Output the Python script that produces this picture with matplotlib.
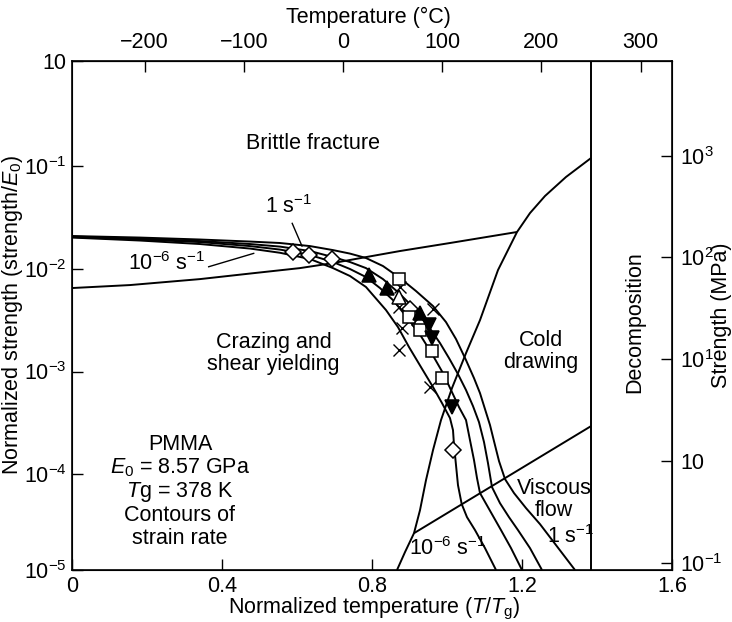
import numpy as np
import matplotlib
matplotlib.use("Agg")
import matplotlib.pyplot as plt
from matplotlib.ticker import FixedLocator, FixedFormatter, NullLocator

plt.rcParams["font.family"] = ["Liberation Sans", "DejaVu Sans"]
plt.rcParams["mathtext.fontset"] = "custom"
plt.rcParams["mathtext.rm"] = "Liberation Sans"
plt.rcParams["mathtext.it"] = "Liberation Sans:italic"
plt.rcParams["mathtext.bf"] = "Liberation Sans:bold"
FS = 15.5

TG = 378.0  # glass temperature, K

# Strain-rate contours: T/Tg and log10(strength/E0)
rate_1_T = [0.0, 0.1813, 0.3413, 0.4747, 0.5547, 0.6347, 0.696, 0.7413, 0.784, 0.8293, 0.8747,
            0.9173, 0.9627, 0.9973, 1.024, 1.0507, 1.072, 1.088, 1.1013, 1.1147, 1.1253, 1.1387,
            1.1547, 1.1787, 1.2107, 1.248, 1.2907, 1.3413]
rate_1_logS = [-1.682, -1.697, -1.716, -1.736, -1.750, -1.780, -1.819, -1.853, -1.896, -1.974, -2.091,
               -2.217, -2.363, -2.519, -2.684, -2.889, -3.064, -3.210, -3.365, -3.521, -3.677, -3.871,
               -4.046, -4.182, -4.328, -4.484, -4.688, -4.93]
rate_1e2_T = [0.0, 0.1813, 0.3413, 0.4747, 0.5547, 0.6347, 0.696, 0.7413, 0.784, 0.8293, 0.872,
              0.9147, 0.952, 0.9813, 1.0053, 1.0293, 1.0507, 1.0693, 1.0853, 1.0987, 1.1093, 1.12,
              1.1413, 1.1653, 1.1893, 1.2213, 1.2533]
rate_1e2_logS = [-1.687, -1.707, -1.731, -1.760, -1.785, -1.828, -1.887, -1.935, -1.994, -2.101, -2.237,
                 -2.393, -2.568, -2.723, -2.869, -3.025, -3.180, -3.336, -3.492, -3.686, -3.891, -4.124,
                 -4.280, -4.416, -4.542, -4.717, -4.93]
rate_1e4_T = [0.0, 0.1813, 0.3413, 0.4747, 0.5547, 0.6347, 0.696, 0.7413, 0.784, 0.8213, 0.856,
              0.8907, 0.9253, 0.9573, 0.9893, 1.0107, 1.032, 1.0507, 1.0613, 1.072, 1.08, 1.088,
              1.1093, 1.144, 1.1707, 1.2]
rate_1e4_logS = [-1.692, -1.716, -1.741, -1.780, -1.814, -1.867, -1.935, -2.003, -2.081, -2.188, -2.305,
                 -2.461, -2.626, -2.811, -3.015, -3.180, -3.346, -3.472, -3.667, -3.861, -4.036, -4.182,
                 -4.319, -4.542, -4.717, -4.93]
rate_1e6_T = [0.0, 0.1813, 0.3413, 0.4747, 0.5547, 0.6347, 0.696, 0.7413, 0.784, 0.8373, 0.8693,
              0.8987, 0.9307, 0.9627, 0.9867, 1.008, 1.016, 1.0187, 1.024, 1.0293, 1.0392, 1.0533,
              1.0747, 1.1013, 1.1307]
rate_1e6_logS = [-1.697, -1.726, -1.760, -1.804, -1.845, -1.906, -1.994, -2.071, -2.178, -2.402, -2.568,
                 -2.762, -2.957, -3.151, -3.307, -3.453, -3.570, -3.715, -3.910, -4.105, -4.289, -4.416,
                 -4.542, -4.717, -4.93]

# Field boundaries
brittle_T = [0.0, 0.1547, 0.3413, 0.4747, 0.608, 0.696, 0.784, 0.8747, 1.008, 1.1867]
brittle_logS = [-2.188, -2.159, -2.101, -2.047, -1.994, -1.945, -1.887, -1.828, -1.750, -1.643]
cold_T = [0.8667, 0.888, 0.912, 0.928, 0.944, 0.9627, 0.984, 1.0133, 1.0507, 1.088, 1.136,
          1.1867, 1.2213, 1.2613, 1.3173, 1.384]
cold_logS = [-4.93, -4.756, -4.572, -4.348, -4.056, -3.764, -3.472, -3.161, -2.821, -2.500, -2.013,
             -1.643, -1.459, -1.293, -1.108, -0.924]
viscous_T = [0.912, 1.384]
viscous_logS = [-4.572, -3.531]
decomp_T = 1.385

# Measurements (T/Tg, strength/E0)
diamond_T = [0.5893, 0.632, 0.6933, 0.9013, 0.928, 1.016]
diamond_S = [1.452e-2, 1.358e-2, 1.241e-2, 4.10e-3, 2.86e-3, 1.72e-4]
square_T = [0.8733, 0.8987, 0.928, 0.96, 0.9867]
square_S = [7.93e-3, 3.42e-3, 2.53e-3, 1.58e-3, 8.58e-4]
tri_up_T = [0.7907, 0.8413, 0.928]
tri_up_S = [8.77e-3, 6.44e-3, 3.75e-3]
tri_open_T = [0.8733]
tri_open_S = [5.27e-3]
tri_down_T = [0.952, 0.9592, 1.0125]
tri_down_S = [2.83e-3, 2.10e-3, 4.48e-4]
cross_T = [0.8747, 0.8707, 0.9627, 0.8792, 0.8733, 0.9547]
cross_S = [6.63e-3, 4.24e-3, 4.10e-3, 2.65e-3, 1.617e-3, 7.14e-4]

# Axis ticks
ylim = (10 ** -4.93, 10 ** 0.02)
y_ticks = [ylim[0], 1e-4, 1e-3, 1e-2, 1e-1, ylim[1]]
y_labels = ["$10^{-5}$", "$10^{-4}$", "$10^{-3}$", "$10^{-2}$", "$10^{-1}$", "10"]
x_ticks = [0, 0.4, 0.8, 1.2, 1.6]
x_labels = ["0", "0.4", "0.8", "1.2", "1.6"]
tc_ticks = [-200, -100, 0, 100, 200, 300]
mpa_pos = [0.126, 0.0129, 0.00131, 0.000135, 1.38e-5]
mpa_labels = ["$10^{3}$", "$10^{2}$", "$10^{1}$", "10", "$10^{-1}$"]

fig = plt.figure(figsize=(7.32, 6.22), dpi=100)
ax = fig.add_axes([72 / 732, 1 - 570 / 622, 600 / 732, 509 / 622])
ax.set_yscale("log")
ax.set_xlim(0, 1.6)
ax.set_ylim(*ylim)

lw = 1.4
curves = [(rate_1_T, rate_1_logS), (rate_1e2_T, rate_1e2_logS), (rate_1e4_T, rate_1e4_logS),
          (rate_1e6_T, rate_1e6_logS), (brittle_T, brittle_logS), (cold_T, cold_logS),
          (viscous_T, viscous_logS)]
for T, logS in curves:
    ax.plot(T, np.power(10.0, logS), color="black", lw=lw, zorder=2,
            solid_joinstyle="round", solid_capstyle="butt")
ax.axvline(decomp_T, color="black", lw=lw, zorder=2)

mk = dict(color="black", linestyle="none", zorder=4, markeredgewidth=1.1)
ax.plot(diamond_T, diamond_S, marker="D", ms=8.5, mfc="white", **mk)
ax.plot(square_T, square_S, marker="s", ms=8.5, mfc="white", **mk)
ax.plot(tri_up_T, tri_up_S, marker="^", ms=10, mfc="black", **mk)
ax.plot(tri_open_T, tri_open_S, marker="^", ms=10, mfc="white", **mk)
ax.plot(tri_down_T, tri_down_S, marker="v", ms=10, mfc="black", **mk)
ax.plot(cross_T, cross_S, marker="x", ms=9, mew=1.0, color="black", linestyle="none", zorder=3)

# Region labels
ax.text(0.644, 0.1668, "Brittle fracture", fontsize=FS, ha="center", va="center")
ax.text(0.537, 0.0015, "Crazing and\nshear yielding", fontsize=FS, ha="center", va="center", linespacing=1.05)
ax.text(1.2507, 0.00156, "Cold\ndrawing", fontsize=FS, ha="center", va="center", linespacing=1.05)
ax.text(1.4995, 0.00305, "Decomposition", fontsize=FS, ha="center", va="center", rotation=90)
ax.text(1.286, 5.74e-5, "Viscous\nflow", fontsize=FS, ha="center", va="center", linespacing=1.05)
ax.text(0.288, 6.87e-5,
        "PMMA\n$\\mathit{E}_0$ = 8.57 GPa\n$\\mathit{T}$g = 378 K\nContours of\nstrain rate",
        fontsize=FS, ha="center", va="center", linespacing=1.08)

# Strain-rate labels
ax.text(0.577, 0.0401, "1 s$^{-1}$", fontsize=FS, ha="center", va="center")
ax.plot([0.5872, 0.6133], [0.02761, 0.01661], color="black", lw=1.0)
ax.text(0.253, 0.01135, "10$^{-6}$ s$^{-1}$", fontsize=FS, ha="center", va="center")
ax.plot([0.3645, 0.4845], [0.01045, 0.0141], color="black", lw=1.0)
ax.text(1.3307, 2.47e-5, "1 s$^{-1}$", fontsize=FS, ha="center", va="center")
ax.text(1.0017, 1.9e-5, "10$^{-6}$ s$^{-1}$", fontsize=FS, ha="center", va="center")

# Axes and ticks
ax.xaxis.set_major_locator(FixedLocator(x_ticks))
ax.xaxis.set_major_formatter(FixedFormatter(x_labels))
ax.yaxis.set_major_locator(FixedLocator(y_ticks))
ax.yaxis.set_major_formatter(FixedFormatter(y_labels))
ax.yaxis.set_minor_locator(NullLocator())
ax.tick_params(direction="in", length=8, width=1.0, labelsize=FS, pad=4)
for s in ax.spines.values():
    s.set_linewidth(1.2)

top = ax.secondary_xaxis("top", functions=(lambda t: t * TG - 273.15,
                                            lambda c: (c + 273.15) / TG))
top.xaxis.set_major_locator(FixedLocator(tc_ticks))
top.xaxis.set_major_formatter(FixedFormatter([f"{v}".replace("-", "\u2212") for v in tc_ticks]))
top.tick_params(direction="in", length=8, width=1.0, labelsize=FS, pad=6)

right = ax.twinx()
right.set_yscale("log")
right.set_ylim(*ylim)
right.yaxis.set_major_locator(FixedLocator(mpa_pos))
right.yaxis.set_major_formatter(FixedFormatter(mpa_labels))
right.yaxis.set_minor_locator(NullLocator())
right.tick_params(direction="in", length=8, width=1.0, labelsize=FS, pad=6)

fig.text(0.512, 1 - 613 / 622, "Normalized temperature ($\\mathit{T}$/$\\mathit{T}_\\mathrm{g}$)",
         fontsize=FS, ha="center", va="baseline")
fig.text(0.504, 1 - 17 / 622, "Temperature (\u00b0C)", fontsize=FS, ha="center", va="center")
fig.text(13 / 732, 1 - 315 / 622, "Normalized strength (strength/$\\mathit{E}_0$)",
         fontsize=FS, ha="center", va="center", rotation=90)
fig.text(722 / 732, 1 - 315 / 622, "Strength (MPa)", fontsize=FS, ha="center", va="center", rotation=90)

fig.savefig("out.png", dpi=100)
